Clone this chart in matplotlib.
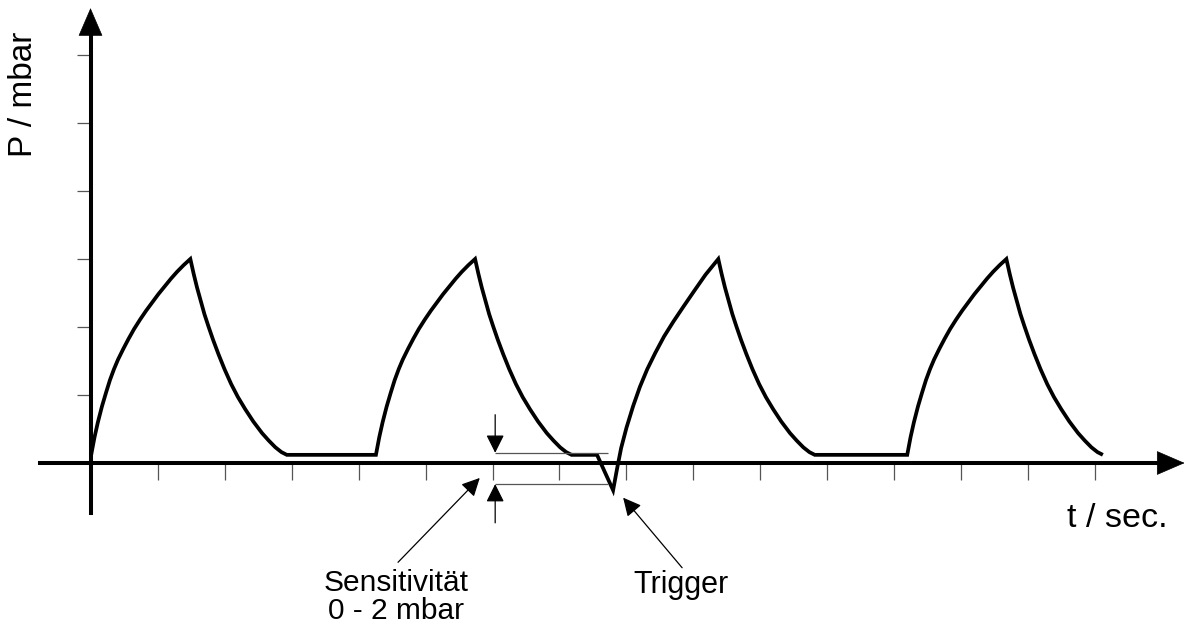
import matplotlib.pyplot as plt

plt.rcParams['font.family'] = ['Liberation Sans', 'DejaVu Sans']

# pressure curve (t and P in tick units)
# one hand-drawn rise (from start of breath) and fall (from peak), reused per cycle
rise_dt = [0.00, 0.05, 0.10, 0.16, 0.22, 0.28, 0.34, 0.40, 0.48, 0.56,
           0.64, 0.73, 0.82, 0.91, 1.00, 1.10, 1.19, 1.28, 1.38, 1.48]
rise_p = [0.12, 0.38, 0.60, 0.83, 1.03, 1.22, 1.38, 1.52, 1.68, 1.83,
          1.97, 2.11, 2.24, 2.36, 2.48, 2.60, 2.71, 2.81, 2.91, 3.00]
fall_dt = [0.00, 0.05, 0.10, 0.15, 0.21, 0.27, 0.34, 0.42, 0.51, 0.61,
           0.71, 0.82, 0.94, 1.07, 1.17, 1.27, 1.36, 1.44]
fall_p = [3.00, 2.78, 2.58, 2.40, 2.19, 2.01, 1.81, 1.60, 1.38, 1.16,
          0.97, 0.79, 0.61, 0.44, 0.33, 0.23, 0.16, 0.12]

# third breath: triggered by the patient, dip below zero then a steeper rise
trig_t = [7.56, 7.80, 7.86, 7.92, 8.00, 8.10, 8.20, 8.31, 8.43, 8.56,
          8.70, 8.85, 9.01, 9.18, 9.37]
trig_p = [0.12, -0.40, -0.08, 0.22, 0.52, 0.84, 1.12, 1.38, 1.62, 1.86,
          2.08, 2.30, 2.53, 2.77, 3.00]

rise_start = [0.01, 4.26, None, 12.19]
peak_t = [1.49, 5.74, 9.37, 13.67]
flat_end = [4.26, 7.56, 12.19, None]
baseline_p = 0.12

x_ticks = [1, 2, 3, 4, 5, 6, 7, 8, 9, 10, 11, 12, 13, 14, 15]
y_ticks = [1, 2, 3, 4, 5, 6]

sens_upper = 0.15
sens_lower = -0.31
sens_t = 6.04
sens_t_end = 7.72

t, p = [], []
for i in range(4):
    if rise_start[i] is None:
        t += trig_t
        p += trig_p
    else:
        t += [rise_start[i] + d for d in rise_dt]
        p += rise_p
    t += [peak_t[i] + d for d in fall_dt[1:]]
    p += fall_p[1:]
    if flat_end[i] is not None:
        t.append(flat_end[i])
        p.append(baseline_p)

fig = plt.figure(figsize=(11.87, 6.26), dpi=100)
ax = fig.add_axes([0, 0, 1, 1])
ax.set_xlim(-1.351, 16.366)
ax.set_ylim(-2.397, 6.809)

# axes as arrows through the origin
for side in ['top', 'right']:
    ax.spines[side].set_visible(False)
ax.spines['bottom'].set_position(('data', 0))
ax.spines['left'].set_position(('data', 0))
ax.spines['bottom'].set_bounds(-0.754, 16.0)
ax.spines['left'].set_bounds(-0.735, 6.4)
ax.spines['bottom'].set_linewidth(2.9)
ax.spines['left'].set_linewidth(2.9)
ax.set_xticks(x_ticks)
ax.set_yticks(y_ticks)
ax.set_xticklabels([])
ax.set_yticklabels([])
ax.tick_params(axis='x', direction='out', length=12, width=0.9, color='#555555')
ax.tick_params(axis='y', direction='out', length=10, width=0.9, color='#555555')
ax.patch.set_visible(False)

head = dict(arrowstyle='-|>,head_length=19,head_width=8.2', mutation_scale=1,
            color='black', lw=0.5, shrinkA=0, shrinkB=0)
ax.annotate('', xy=(16.33, 0), xytext=(15.6, 0), arrowprops=head)
ax.annotate('', xy=(0, 6.69), xytext=(0, 6.0), arrowprops=head)

ax.plot(t, p, color='black', lw=2.7, solid_joinstyle='miter', solid_capstyle='butt')

# sensitivity window
ax.hlines([sens_upper, sens_lower], sens_t, sens_t_end, color='#555555', lw=0.9)
small = dict(arrowstyle='-|>,head_length=11,head_width=5.5', mutation_scale=1,
             color='black', lw=0.9, shrinkA=0, shrinkB=0)
ax.annotate('', xy=(sens_t, sens_upper), xytext=(sens_t, 0.71), arrowprops=small)
ax.annotate('', xy=(sens_t, sens_lower), xytext=(sens_t, -0.88), arrowprops=small)
ax.annotate('', xy=(5.81, -0.22), xytext=(4.59, -1.46), arrowprops=small)
ax.annotate('', xy=(7.95, -0.51), xytext=(8.83, -1.54), arrowprops=small)

ax.text(4.56, -1.88, 'Sensitivität', ha='center', va='baseline', fontsize=21.5)
ax.text(4.56, -2.29, '0 - 2 mbar', ha='center', va='baseline', fontsize=21.5)
ax.text(8.81, -1.91, 'Trigger', ha='center', va='baseline', fontsize=22)
ax.text(15.33, -0.94, 't / sec.', ha='center', va='baseline', fontsize=24.5)
ax.text(-1.0, 5.42, 'P / mbar', ha='center', va='center', rotation=90, fontsize=24)

plt.savefig('out.png', dpi=100)
